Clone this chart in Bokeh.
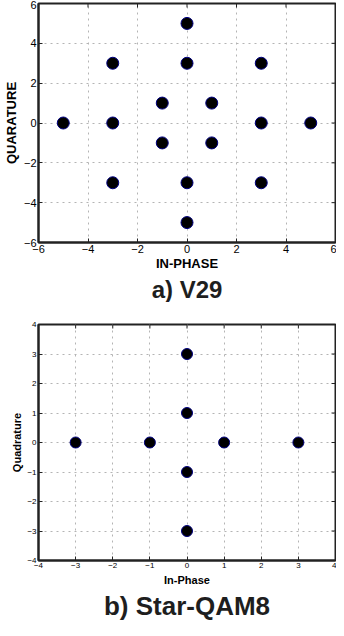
import math
from bokeh.plotting import figure
from bokeh.models import Title, FixedTicker, Range1d
from bokeh.layouts import column
from bokeh.embed import file_html
from bokeh.resources import INLINE

# V29 constellation
v29_i = [0, -3, 0, 3, -1, 1, -5, -3, 3, 5, -1, 1, -3, 0, 3, 0]
v29_q = [5, 3, 3, 3, 1, 1, 0, 0, 0, 0, -1, -1, -3, -3, -3, -5]
v29_ticks = [-6, -4, -2, 0, 2, 4, 6]

# Star-QAM8 constellation
sq_i = [0, 0, -3, -1, 1, 3, 0, 0]
sq_q = [3, 1, 0, 0, 0, 0, -1, -3]
sq_ticks = [-4, -3, -2, -1, 0, 1, 2, 3, 4]

FONT = "Liberation Sans"
FRAME = "#222222"


def make_panel(xs, ys, ticks, lim, xlabel, ylabel, title, tick_fs, label_fs,
               title_fs, msize, height, border_top, border_left,
               tick_standoff, label_standoff, ylabel_standoff):
    p = figure(width=336, height=height, x_range=Range1d(-lim, lim),
               y_range=Range1d(-lim, lim), output_backend="svg",
               toolbar_location=None, min_border_left=border_left,
               min_border_right=1, min_border_top=border_top,
               min_border_bottom=0)
    p.outline_line_color = FRAME
    p.outline_line_width = 2
    p.background_fill_color = "white"
    p.border_fill_color = "white"
    for ax in (p.xaxis[0], p.yaxis[0]):
        ax.ticker = FixedTicker(ticks=ticks)
        ax.major_tick_in = 4
        ax.major_tick_out = 0
        ax.minor_tick_line_color = None
        ax.axis_line_color = FRAME
        ax.axis_line_width = 2
        ax.major_tick_line_color = FRAME
        ax.major_label_text_font = FONT
        ax.major_label_text_font_size = tick_fs
        ax.major_label_text_color = "black"
        ax.major_label_standoff = tick_standoff
        ax.axis_label_text_font = FONT
        ax.axis_label_text_font_size = label_fs
        ax.axis_label_text_font_style = "bold"
        ax.axis_label_text_color = "black"
    p.xaxis[0].axis_label_standoff = label_standoff
    p.yaxis[0].axis_label_standoff = ylabel_standoff
    p.xaxis[0].axis_label = xlabel
    p.yaxis[0].axis_label = ylabel
    p.grid.ticker = FixedTicker(ticks=ticks)
    p.grid.grid_line_color = "#b4b4b4"
    p.grid.grid_line_dash = "dotted"
    p.grid.grid_line_width = 1
    # inward box ticks on the top and right edges (at the tick values)
    n = len(ticks)
    p.ray(x=ticks, y=[lim] * n, length=4, length_units="screen",
          angle=-math.pi / 2, line_color=FRAME, line_width=1)
    p.ray(x=[lim] * n, y=ticks, length=4, length_units="screen",
          angle=math.pi, line_color=FRAME, line_width=1)
    p.scatter(xs, ys, size=msize, fill_color="black", line_color="#000080",
              line_width=1)
    p.add_layout(Title(text=title, align="center", text_font=FONT,
                       text_font_size=title_fs, text_font_style="bold",
                       text_color="#1e1e1e", standoff=0, offset=-4),
                 "below")
    return p


p1 = make_panel(v29_i, v29_q, v29_ticks, 6, "IN-PHASE", "QUARATURE", "a) V29",
                "11px", "13px", "24px", 12, 302, 3, 29, 2, 0, 2)
p2 = make_panel(sq_i, sq_q, sq_ticks, 4, "In-Phase", "Quadrature",
                "b) Star-QAM8", "8px", "11px", "26px", 11, 318, 22, 25,
                2, 3, 1)

layout = column(p1, p2, spacing=0)
open("out.html", "w").write(file_html(layout, INLINE))
